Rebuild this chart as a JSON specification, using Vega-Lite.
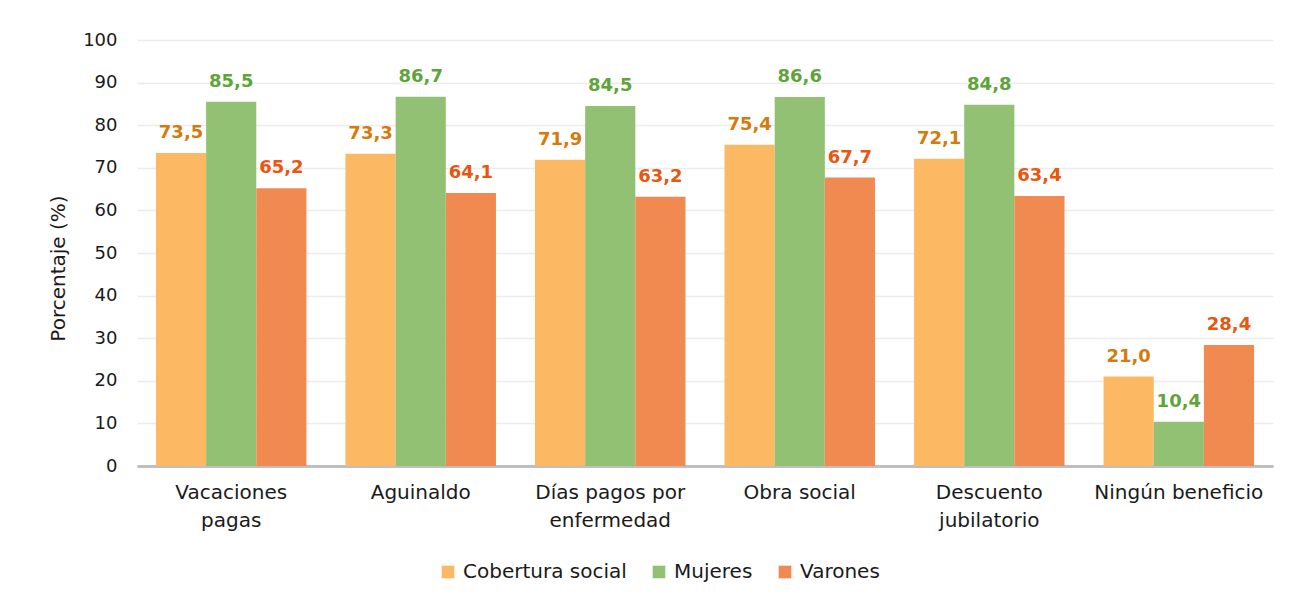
{
  "$schema": "https://vega.github.io/schema/vega-lite/v6.json",
  "width": 1136,
  "height": 426,
  "autosize": "none",
  "padding": {"left": 137, "top": 40, "right": 19, "bottom": 132},
  "background": "white",
  "config": {
    "font": "DejaVu Sans",
    "view": {"stroke": null},
    "locale": {"number": {"decimal": ",", "thousands": ".", "grouping": [3], "currency": ["$", ""]}}
  },
  "data": {
    "values": [
      {"beneficio": "Vacaciones|pagas", "serie": "Cobertura social", "valor": 73.5},
      {"beneficio": "Vacaciones|pagas", "serie": "Mujeres", "valor": 85.5},
      {"beneficio": "Vacaciones|pagas", "serie": "Varones", "valor": 65.2},
      {"beneficio": "Aguinaldo", "serie": "Cobertura social", "valor": 73.3},
      {"beneficio": "Aguinaldo", "serie": "Mujeres", "valor": 86.7},
      {"beneficio": "Aguinaldo", "serie": "Varones", "valor": 64.1},
      {"beneficio": "Días pagos por|enfermedad", "serie": "Cobertura social", "valor": 71.9},
      {"beneficio": "Días pagos por|enfermedad", "serie": "Mujeres", "valor": 84.5},
      {"beneficio": "Días pagos por|enfermedad", "serie": "Varones", "valor": 63.2},
      {"beneficio": "Obra social", "serie": "Cobertura social", "valor": 75.4},
      {"beneficio": "Obra social", "serie": "Mujeres", "valor": 86.6},
      {"beneficio": "Obra social", "serie": "Varones", "valor": 67.7},
      {"beneficio": "Descuento|jubilatorio", "serie": "Cobertura social", "valor": 72.1},
      {"beneficio": "Descuento|jubilatorio", "serie": "Mujeres", "valor": 84.8},
      {"beneficio": "Descuento|jubilatorio", "serie": "Varones", "valor": 63.4},
      {"beneficio": "Ningún beneficio", "serie": "Cobertura social", "valor": 21.0},
      {"beneficio": "Ningún beneficio", "serie": "Mujeres", "valor": 10.4},
      {"beneficio": "Ningún beneficio", "serie": "Varones", "valor": 28.4}
    ]
  },
  "encoding": {
    "x": {
      "field": "beneficio",
      "type": "nominal",
      "sort": null,
      "scale": {"paddingInner": 0.206, "paddingOuter": 0.1},
      "axis": {
        "title": null,
        "labelAngle": 0,
        "labelExpr": "split(datum.label, '|')",
        "labelFontSize": 20,
        "labelColor": "#1a1a1a",
        "labelPadding": 16,
        "labelLineHeight": 28,
        "labelOverlap": false,
        "ticks": false,
        "domainColor": "#bfbfbf",
        "domainWidth": 3,
        "grid": false
      }
    },
    "xOffset": {"field": "serie", "type": "nominal", "sort": ["Cobertura social", "Mujeres", "Varones"]},
    "y": {
      "field": "valor",
      "type": "quantitative",
      "scale": {"domain": [0, 100]},
      "axis": {
        "title": "Porcentaje (%)",
        "titleFontSize": 20,
        "titleFontWeight": "normal",
        "titleColor": "#1a1a1a",
        "titlePadding": 14,
        "titleY": 228,
        "values": [0, 10, 20, 30, 40, 50, 60, 70, 80, 90, 100],
        "labelOverlap": false,
        "labelFontSize": 18,
        "labelColor": "#1a1a1a",
        "labelPadding": 20,
        "ticks": false,
        "domain": false,
        "gridColor": "#ececec",
        "gridWidth": 1.5
      }
    }
  },
  "layer": [
    {
      "mark": {"type": "bar"},
      "encoding": {
        "color": {
          "field": "serie",
          "type": "nominal",
          "sort": ["Cobertura social", "Mujeres", "Varones"],
          "scale": {"domain": ["Cobertura social", "Mujeres", "Varones"], "range": ["#fcb862", "#93c173", "#f08a50"]},
          "legend": {
            "title": null,
            "orient": "none",
            "legendX": 301,
            "legendY": 522,
            "direction": "horizontal",
            "symbolType": "square",
            "symbolSize": 160,
            "symbolStrokeWidth": 0,
            "labelFontSize": 20,
            "labelLimit": 400,
            "labelColor": "#1a1a1a",
            "columnPadding": 22,
            "labelOffset": 5
          }
        }
      }
    },
    {
      "mark": {"type": "text", "baseline": "bottom", "dy": -11, "fontSize": 18, "fontWeight": "bold"},
      "encoding": {
        "text": {"field": "valor", "type": "quantitative", "format": ".1f"},
        "color": {
          "field": "serie",
          "type": "nominal",
          "scale": {"domain": ["Cobertura social", "Mujeres", "Varones"], "range": ["#d67a0c", "#5fa43a", "#e8560f"]},
          "legend": null
        }
      }
    }
  ],
  "resolve": {"scale": {"color": "independent"}}
}
